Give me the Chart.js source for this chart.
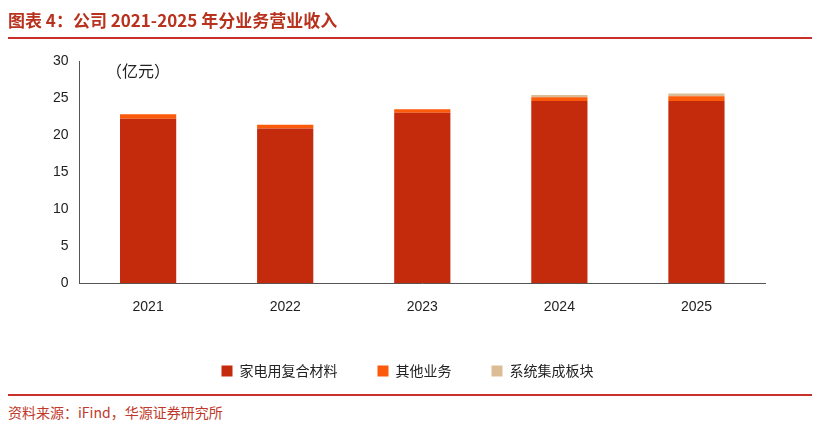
<!DOCTYPE html>
<html><head><meta charset="utf-8">
<script src="https://cdn.jsdelivr.net/npm/chart.js@4"></script>
<style>
body{margin:0;background:#fff;font-family:"Noto Sans CJK SC",sans-serif;}
#wrap{position:relative;width:820px;height:438px;}
.title{position:absolute;left:8px;top:7px;font-size:17px;font-weight:bold;color:#b8321e;}
.line{position:absolute;left:8px;right:8px;height:2px;background:#c9302c;}
.src{position:absolute;left:8px;top:402px;font-size:14px;color:#c0392b;}
.unit{position:absolute;left:106px;top:58px;font-size:16px;color:#222;}
#c{position:absolute;left:0;top:0;}
</style></head><body>
<div id="wrap">
<canvas id="c" width="820" height="388"></canvas>
<div class="title">图表 4：公司 2021-2025 年分业务营业收入</div>
<div class="line" style="top:37px"></div>
<div class="unit">（亿元）</div>
<div class="line" style="top:394px"></div>
<div class="src">资料来源：iFind，华源证券研究所</div>
</div>
<script>
const years = ['2021', '2022', '2023', '2024', '2025'];
const composite = [22.2, 20.9, 23.0, 24.6, 24.6];
const otherBiz = [0.6, 0.5, 0.5, 0.5, 0.65];
const systemBoard = [0, 0, 0, 0.3, 0.35];

new Chart(document.getElementById('c'), {
    type: 'bar',
    data: {
        labels: years,
        datasets: [
            { label: '家电用复合材料', data: composite, backgroundColor: '#c42a0c' },
            { label: '其他业务', data: otherBiz, backgroundColor: '#fa5a0a' },
            { label: '系统集成板块', data: systemBoard, backgroundColor: '#dcbc94' }
        ]
    },
    options: {
        responsive: false,
        animation: false,
        layout: { padding: { left: 50, right: 55, top: 61, bottom: 0 } },
        datasets: { bar: { categoryPercentage: 1, barPercentage: 0.41 } },
        scales: {
            x: {
                stacked: true,
                grid: { display: false },
                border: { color: '#555' },
                ticks: { color: '#222', padding: 8, font: { size: 14, family: 'Liberation Sans' } }
            },
            y: {
                stacked: true, min: 0, max: 30,
                ticks: { stepSize: 5, color: '#222', font: { size: 14, family: 'Liberation Sans' } },
                grid: { display: false },
                border: { color: '#555' }
            }
        },
        plugins: {
            legend: {
                position: 'bottom',
                labels: { boxWidth: 11, boxHeight: 11, padding: 40, color: '#222',
                    font: { size: 14, family: 'Noto Sans CJK SC' } }
            },
            tooltip: { enabled: false }
        }
    }
});
</script>
</body></html>
